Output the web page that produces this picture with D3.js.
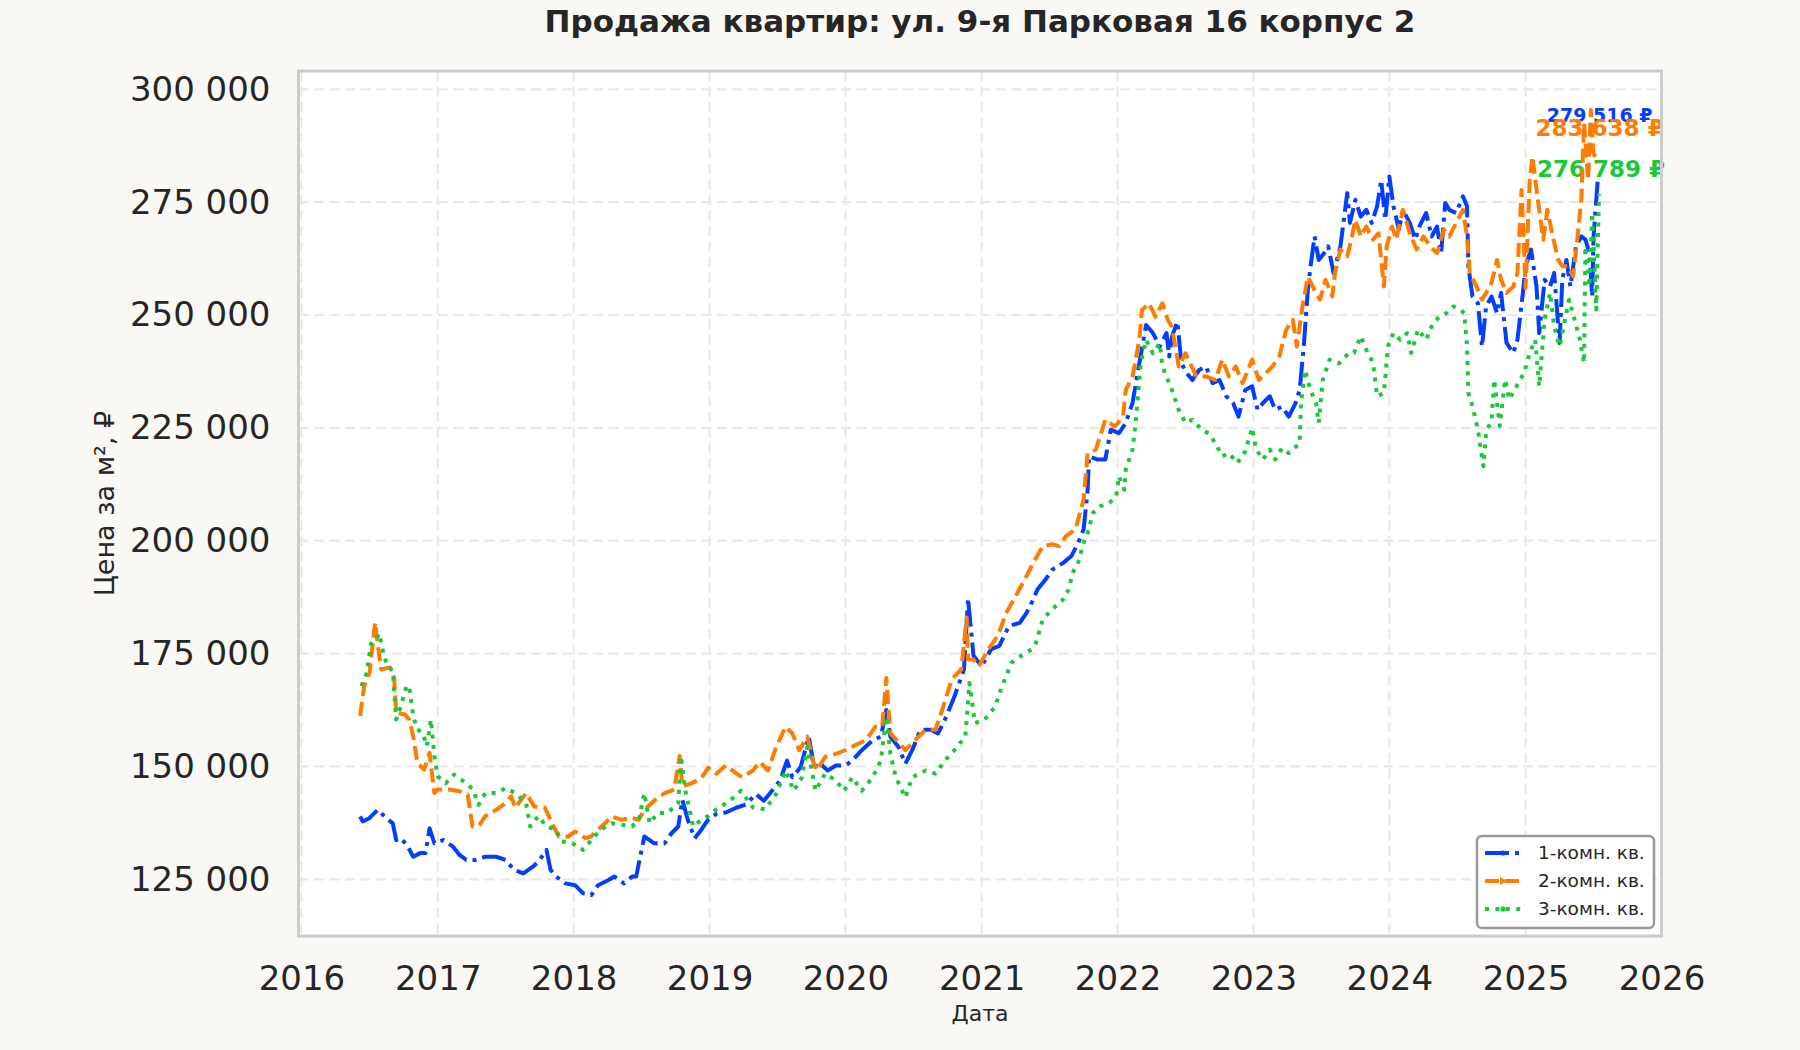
<!DOCTYPE html>
<html><head><meta charset="utf-8">
<script src="https://cdn.jsdelivr.net/npm/d3@7/dist/d3.min.js"></script>
<style>html,body{margin:0;padding:0;background:#f9f8f4;}svg{display:block;}</style>
</head><body>
<svg id="chart" width="1800" height="1050"></svg>
<script>
// ---- data (dates as decimal years, values in ₽ per m²) ----
const title = "Продажа квартир: ул. 9-я Парковая 16 корпус 2";
const seriesNames = ["1-комн. кв.", "2-комн. кв.", "3-комн. кв."];
const yTicks = [125000,150000,175000,200000,225000,250000,275000,300000];
const xTickYears = [2016,2017,2018,2019,2020,2021,2022,2023,2024,2025,2026];
const lastLabels = ["279 516 ₽", "283 638 ₽", "276 789 ₽"];

const dates1 = [2016.43,2016.45,2016.50,2016.56,2016.62,2016.67,2016.695,2016.73,2016.78,2016.82,2016.87,2016.91,2016.94,2016.975,2017.04,2017.11,2017.16,2017.21,2017.28,2017.35,2017.43,2017.50,2017.56,2017.63,2017.70,2017.74,2017.80,2017.83,2017.87,2017.94,2018.01,2018.07,2018.13,2018.18,2018.26,2018.30,2018.37,2018.43,2018.46,2018.49,2018.52,2018.59,2018.67,2018.72,2018.77,2018.80,2018.84,2018.89,2018.94,2018.99,2019.05,2019.12,2019.20,2019.27,2019.34,2019.40,2019.46,2019.52,2019.57,2019.61,2019.67,2019.73,2019.77,2019.80,2019.87,2019.93,2020.00,2020.05,2020.12,2020.20,2020.26,2020.30,2020.33,2020.39,2020.44,2020.49,2020.55,2020.63,2020.68,2020.74,2020.80,2020.87,2020.90,2020.94,2021.00,2021.07,2021.13,2021.20,2021.28,2021.33,2021.38,2021.41,2021.47,2021.52,2021.60,2021.66,2021.71,2021.75,2021.78,2021.79,2021.85,2021.91,2021.95,2022.01,2022.06,2022.11,2022.16,2022.21,2022.26,2022.31,2022.36,2022.38,2022.40,2022.44,2022.47,2022.51,2022.55,2022.60,2022.65,2022.70,2022.75,2022.80,2022.85,2022.89,2022.94,2022.99,2023.03,2023.07,2023.12,2023.16,2023.21,2023.26,2023.31,2023.34,2023.37,2023.40,2023.42,2023.45,2023.48,2023.52,2023.55,2023.59,2023.64,2023.69,2023.71,2023.75,2023.79,2023.83,2023.87,2023.91,2023.94,2023.97,2024.00,2024.03,2024.07,2024.10,2024.15,2024.19,2024.22,2024.27,2024.31,2024.35,2024.38,2024.41,2024.44,2024.49,2024.54,2024.57,2024.58,2024.61,2024.65,2024.68,2024.71,2024.75,2024.79,2024.82,2024.86,2024.91,2024.94,2024.98,2025.00,2025.04,2025.08,2025.10,2025.14,2025.18,2025.21,2025.25,2025.27,2025.30,2025.33,2025.37,2025.41,2025.44,2025.47,2025.49,2025.50,2025.53];
const values1 = [138900,137800,138600,140400,138600,137400,133700,134100,132300,130000,130800,130800,136300,133000,133700,132300,130400,129300,129300,130000,130000,129300,127100,126300,127800,128900,131500,127100,125600,124100,123700,121900,121500,123700,124900,125600,124100,125600,125600,130000,134500,133000,133000,135200,136700,142600,138200,134100,136000,138200,139500,139800,140900,141600,143900,142400,144600,146900,151300,147600,149800,156600,149800,151000,149100,150200,150200,151300,153600,155800,156600,162500,156600,154300,150600,153600,158100,158100,157300,161000,165500,171500,187200,174500,172200,176000,176700,181100,181800,184000,187000,189200,191400,193600,195100,196600,199500,202500,211300,218700,218000,218000,224600,223800,226100,230500,239300,247800,246000,243000,246000,240800,245200,248500,239300,237100,235600,237800,238600,234900,235600,232000,230500,227500,233400,234200,229000,230500,232000,229000,229700,227500,230500,233400,243000,255500,260800,267400,262200,263700,265200,259300,265200,277000,270400,275500,271800,273300,270400,274100,279900,271100,280700,274100,268900,273300,270400,266700,269600,272600,267400,269600,263700,274800,273300,272600,276300,274100,260800,254100,252600,243000,251900,254100,250400,254900,243800,241600,244500,254900,260800,264500,256300,246000,257800,256300,259300,243800,257800,262200,256300,265200,267400,266700,263700,254100,267400,279516];

const dates2 = [2016.43,2016.46,2016.50,2016.54,2016.56,2016.585,2016.65,2016.68,2016.695,2016.76,2016.79,2016.82,2016.85,2016.90,2016.94,2016.975,2017.00,2017.085,2017.16,2017.22,2017.256,2017.30,2017.35,2017.43,2017.50,2017.54,2017.57,2017.65,2017.71,2017.79,2017.84,2017.89,2017.96,2018.01,2018.09,2018.13,2018.18,2018.23,2018.28,2018.35,2018.43,2018.48,2018.52,2018.60,2018.67,2018.74,2018.78,2018.80,2018.87,2018.94,2018.99,2019.05,2019.12,2019.20,2019.24,2019.32,2019.37,2019.43,2019.49,2019.56,2019.61,2019.66,2019.72,2019.76,2019.79,2019.85,2019.93,2020.00,2020.07,2020.15,2020.22,2020.27,2020.30,2020.33,2020.39,2020.44,2020.51,2020.59,2020.66,2020.71,2020.78,2020.85,2020.89,2020.90,2020.94,2020.98,2021.05,2021.12,2021.18,2021.25,2021.33,2021.38,2021.45,2021.52,2021.57,2021.62,2021.69,2021.73,2021.75,2021.78,2021.84,2021.91,2021.98,2022.04,2022.06,2022.11,2022.16,2022.18,2022.23,2022.28,2022.33,2022.37,2022.40,2022.45,2022.50,2022.58,2022.65,2022.72,2022.77,2022.82,2022.87,2022.92,2022.99,2023.04,2023.09,2023.14,2023.19,2023.24,2023.29,2023.32,2023.36,2023.40,2023.46,2023.49,2023.53,2023.58,2023.60,2023.64,2023.69,2023.72,2023.75,2023.79,2023.83,2023.88,2023.92,2023.96,2023.98,2024.02,2024.05,2024.10,2024.15,2024.20,2024.25,2024.30,2024.35,2024.40,2024.44,2024.49,2024.54,2024.57,2024.59,2024.64,2024.68,2024.71,2024.75,2024.79,2024.82,2024.86,2024.91,2024.94,2024.97,2025.00,2025.03,2025.05,2025.09,2025.13,2025.16,2025.20,2025.24,2025.27,2025.31,2025.35,2025.38,2025.41,2025.43,2025.46,2025.48,2025.50,2025.53];
const values2 = [161200,167800,170800,181900,177000,171500,171900,169700,161900,161500,160400,156700,150800,149300,153000,144100,144900,144900,144500,143800,136700,136700,139000,140400,141900,143400,140800,144100,141100,140800,137400,134500,134500,135600,134100,134500,136000,137400,138900,138200,138600,138200,140400,142600,144100,144900,152300,145600,146300,147400,149700,148400,150200,148400,147600,149100,151000,149100,154300,158800,157300,153600,156600,151300,149100,152100,152800,153600,154700,155800,158800,158800,169600,157300,155400,153600,155800,158100,158100,162500,169300,171500,183000,173700,173700,172200,176000,179000,184000,187700,192200,195100,198800,199200,198800,201000,202500,206900,209100,219400,220200,226800,225300,227500,233400,236400,244500,251100,252600,249600,252600,248900,247400,238600,241500,236400,236400,235600,240100,236400,238600,234900,240100,235600,237100,238600,240800,246700,248900,243000,251800,258500,254900,253400,257800,254100,259300,264500,263000,266700,271100,267400,269600,266700,268100,256300,265200,269600,266700,273300,268100,264500,267400,265200,263700,268900,267400,270400,273300,267400,259300,256300,253400,254900,257100,262200,257800,254900,256300,259300,277700,256000,279900,285100,275500,266700,273300,267400,262200,260800,260800,258600,266700,275500,292500,279900,295400,285800,283638];

const dates3 = [2016.44,2016.48,2016.51,2016.55,2016.57,2016.60,2016.63,2016.67,2016.695,2016.73,2016.77,2016.79,2016.82,2016.85,2016.89,2016.92,2016.95,2016.975,2017.00,2017.06,2017.12,2017.21,2017.26,2017.30,2017.35,2017.43,2017.50,2017.57,2017.65,2017.68,2017.74,2017.80,2017.87,2017.91,2017.99,2018.07,2018.13,2018.20,2018.28,2018.35,2018.43,2018.48,2018.52,2018.56,2018.62,2018.69,2018.77,2018.79,2018.82,2018.88,2018.94,2018.99,2019.05,2019.15,2019.23,2019.32,2019.41,2019.49,2019.56,2019.62,2019.68,2019.72,2019.78,2019.85,2019.93,2019.99,2020.05,2020.12,2020.20,2020.26,2020.30,2020.33,2020.37,2020.44,2020.49,2020.59,2020.66,2020.73,2020.80,2020.88,2020.91,2020.95,2021.02,2021.10,2021.15,2021.22,2021.29,2021.37,2021.40,2021.45,2021.52,2021.60,2021.64,2021.67,2021.72,2021.74,2021.78,2021.82,2021.87,2021.94,2021.99,2022.01,2022.05,2022.06,2022.11,2022.13,2022.15,2022.17,2022.21,2022.26,2022.31,2022.33,2022.37,2022.40,2022.45,2022.50,2022.55,2022.62,2022.67,2022.72,2022.77,2022.82,2022.88,2022.94,2022.99,2023.02,2023.07,2023.12,2023.16,2023.21,2023.26,2023.34,2023.35,2023.38,2023.42,2023.46,2023.48,2023.51,2023.56,2023.63,2023.70,2023.74,2023.79,2023.83,2023.88,2023.91,2023.96,2023.99,2024.03,2024.08,2024.13,2024.16,2024.21,2024.27,2024.32,2024.37,2024.42,2024.47,2024.52,2024.55,2024.57,2024.58,2024.61,2024.65,2024.69,2024.71,2024.75,2024.77,2024.81,2024.85,2024.88,2024.92,2024.96,2024.99,2025.03,2025.07,2025.10,2025.14,2025.18,2025.21,2025.25,2025.29,2025.32,2025.36,2025.40,2025.43,2025.44,2025.47,2025.49,2025.52,2025.54];
const values3 = [167800,170800,177100,178200,179500,175200,172300,171100,160400,163400,167800,167800,161100,158200,157400,154500,160400,152300,147800,146300,148200,146300,144900,141500,144100,144100,145200,144100,141900,136700,139000,136700,136000,133400,133000,131500,133700,136000,137400,137100,136700,138200,144100,137400,139700,139700,141900,152300,144900,136700,138200,139000,140500,142400,144600,140900,140500,143900,149100,144600,147600,154300,144600,148400,146900,144600,147600,144600,147600,151300,161000,152800,147600,143100,147600,149100,148400,151300,153600,156600,168500,159600,160300,163300,167800,173000,174500,176000,177400,182600,184800,187000,189200,192900,195800,198800,201700,206200,207600,208400,209800,214300,211300,215700,220200,225300,232000,239300,244500,241500,243700,238600,235600,233400,229000,226100,226800,224600,223800,221600,218700,219400,217200,219800,225000,220200,218000,220200,218000,220500,219400,221600,230500,237800,233400,230500,226100,235600,240100,239300,241500,241600,245300,242300,239400,232000,232700,243100,246000,244500,246000,241600,246800,244500,248200,249700,250400,251900,251200,250400,243100,232700,229800,224600,216500,223900,226800,235700,225400,235700,231300,233500,235700,237200,241600,244500,234200,249000,254900,247500,243100,249000,253400,249000,244500,239400,265200,256300,272600,251200,276789];

// ---- helpers ----
function yearToDate(y){
  const yr = Math.floor(y);
  const start = Date.UTC(yr,0,1), end = Date.UTC(yr+1,0,1);
  return new Date(start + (y-yr)*(end-start));
}
const series = [
  {name: seriesNames[0], dates: dates1, values: values1, color: "#023eff", dash: "24,6,4,6", label: lastLabels[0], fs: 19, dy: -60},
  {name: seriesNames[1], dates: dates2, values: values2, color: "#ff7c00", dash: "14,6", label: lastLabels[1], fs: 23, dy: -27},
  {name: seriesNames[2], dates: dates3, values: values3, color: "#1ac938", dash: "4,6.4", label: lastLabels[2], fs: 23, dy: -17}
].map(s => ({...s, points: s.dates.map((d,i)=>({date: yearToDate(d), value: s.values[i]}))}));

// ---- layout ----
const W = 1800, H = 1050;
const L = 298.5, R = 1661.5, T = 71, B = 936;
const FONT = "DejaVu Sans, Liberation Sans, sans-serif";
const TXT = "#262626";

const svg = d3.select("#chart");
svg.append("rect").attr("width",W).attr("height",H).attr("fill","#f9f8f4");

const x = d3.scaleUtc().domain([yearToDate(2015.978), yearToDate(2026)]).range([L, R]);
const y = d3.scaleLinear().domain([112440, 304050]).range([B, T]);

svg.append("rect").attr("x",L).attr("y",T).attr("width",R-L).attr("height",B-T).attr("fill","#ffffff");

// grid
const grid = svg.append("g");
grid.selectAll("line.gx").data(xTickYears.filter(v=>v<2026)).join("line")
  .attr("x1",d=>x(yearToDate(d))).attr("x2",d=>x(yearToDate(d)))
  .attr("y1",T).attr("y2",B)
  .attr("stroke","#e9e9e9").attr("stroke-width",2.2).attr("stroke-dasharray","10,5.5");
grid.selectAll("line.gy").data(yTicks).join("line")
  .attr("x1",L).attr("x2",R).attr("y1",d=>y(d)).attr("y2",d=>y(d))
  .attr("stroke","#e9e9e9").attr("stroke-width",2.2).attr("stroke-dasharray","10,5.5");

// axes (tick labels via d3 axes)
const fmt = v => d3.format(",")(v).replace(/,/g," ");
const yAxis = d3.axisLeft(y).tickValues(yTicks).tickFormat(fmt).tickSize(0).tickPadding(28);
const gy = svg.append("g").attr("transform",`translate(${L},0)`).call(yAxis);
gy.select(".domain").remove();
gy.selectAll("text").attr("font-family",FONT).attr("font-size",34).attr("fill",TXT);

const xAxis = d3.axisBottom(x).tickValues(xTickYears.map(yearToDate)).tickFormat(d3.utcFormat("%Y")).tickSize(0).tickPadding(30);
const gx = svg.append("g").attr("transform",`translate(0,${B})`).call(xAxis);
gx.select(".domain").remove();
gx.selectAll("text").attr("font-family",FONT).attr("font-size",34).attr("fill",TXT);

// last-value labels (placed as in the reference, overlapping near the line ends)
const last = s => s.points[s.points.length-1];
svg.append("g").selectAll("text").data(series).join("text")
  .attr("x", s => x(last(s).date)+2)
  .attr("y", s => y(last(s).value) + s.dy)
  .attr("text-anchor","middle")
  .attr("font-family",FONT).attr("font-weight","bold")
  .attr("font-size", s => s.fs).attr("fill", s => s.color)
  .text(s => s.label);

// lines
const line = d3.line().x(d=>x(d.date)).y(d=>y(d.value));
svg.append("clipPath").attr("id","clip").append("rect")
  .attr("x",L).attr("y",T).attr("width",R-L).attr("height",B-T);
svg.append("g").attr("clip-path","url(#clip)").selectAll("path").data(series).join("path")
  .attr("d", s => line(s.points))
  .attr("fill","none").attr("stroke", s=>s.color).attr("stroke-width",4)
  .attr("stroke-dasharray", s=>s.dash).attr("stroke-linejoin","round");

// frame
svg.append("rect").attr("x",L).attr("y",T).attr("width",R-L).attr("height",B-T)
  .attr("fill","none").attr("stroke","#cccccc").attr("stroke-width",3);

// title + axis labels
svg.append("text").attr("x",(L+R)/2).attr("y",32).attr("text-anchor","middle")
  .attr("font-family",FONT).attr("font-weight","bold").attr("font-size",31).attr("fill",TXT).text(title);
svg.append("text").attr("x",(L+R)/2).attr("y",1021).attr("text-anchor","middle")
  .attr("font-family",FONT).attr("font-size",22).attr("fill",TXT).text("Дата");
svg.append("text").attr("transform",`translate(114,${(T+B)/2}) rotate(-90)`).attr("text-anchor","middle")
  .attr("font-family",FONT).attr("font-size",27).attr("fill",TXT).text("Цена за м², ₽");

// legend
const lg = svg.append("g");
lg.append("rect").attr("x",1477).attr("y",836).attr("width",177).attr("height",92).attr("rx",5)
  .attr("fill","#ffffff").attr("stroke","#999999").attr("stroke-width",2.5);
const rowY = [853, 881, 909];
series.forEach((s,i)=>{
  lg.append("line").attr("x1",1485).attr("x2",1522).attr("y1",rowY[i]).attr("y2",rowY[i])
    .attr("stroke",s.color).attr("stroke-width",4).attr("stroke-dasharray",s.dash);
  if(i===1){
    lg.append("path").attr("d",`M${1500},${rowY[i]-4} L${1507},${rowY[i]} L${1500},${rowY[i]+4} Z`).attr("fill",s.color);
  } else {
    lg.append("circle").attr("cx",1503).attr("cy",rowY[i]).attr("r",2.6).attr("fill",s.color);
  }
  lg.append("text").attr("x",1538).attr("y",rowY[i]).attr("dy","0.35em")
    .attr("font-family",FONT).attr("font-size",18.5).attr("fill",TXT).text(s.name);
});
</script>
</body></html>
